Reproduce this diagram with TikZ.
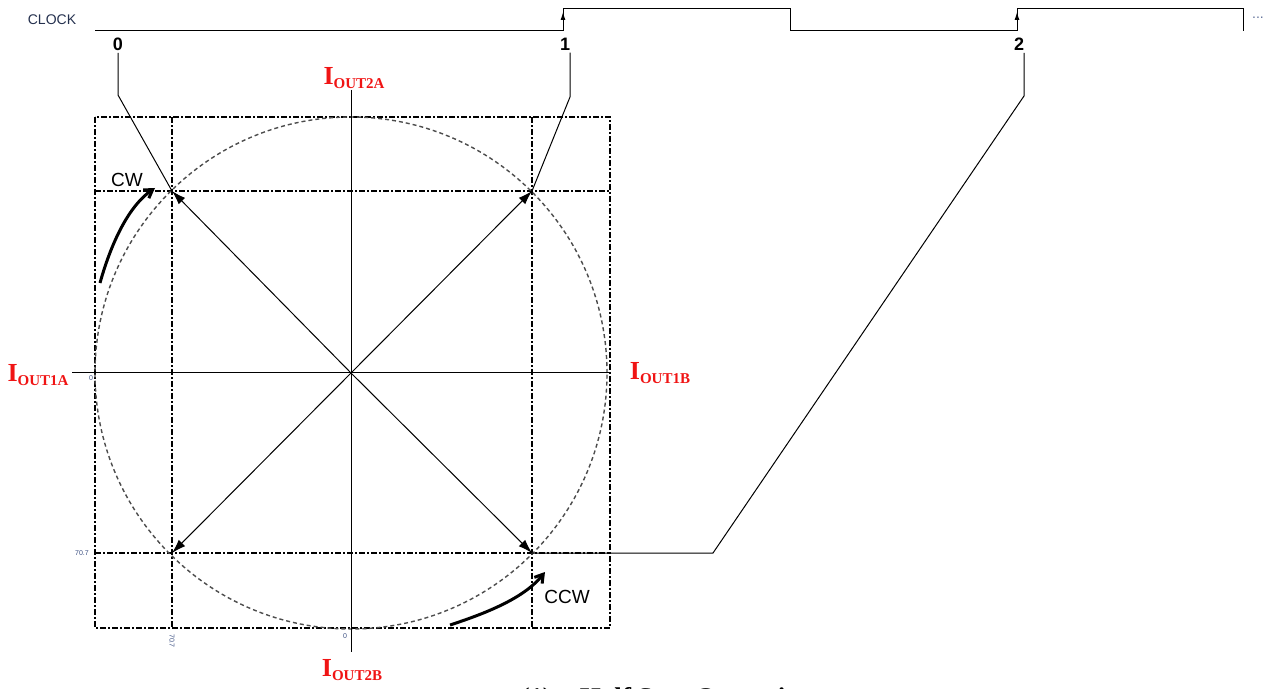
\documentclass[tikz,border=0pt]{standalone}
\usepackage{fontspec}
\setmainfont{Liberation Sans}
\newfontfamily\tnr{Liberation Serif}
\usetikzlibrary{arrows.meta}
\definecolor{ired}{RGB}{240,20,20}
\definecolor{tickblue}{RGB}{60,80,130}

\newcommand{\iout}[1]{{\tnr\bfseries\fontsize{13}{13}\selectfont I\raisebox{-0.4ex}{\fontsize{7.5}{7.5}\selectfont OUT#1}}}

\tikzset{
  gridline/.style={line width=0.55pt, dash pattern=on 3pt off 1.2pt on 0.6pt off 1.2pt},
  circline/.style={line width=0.7pt, black!70, dash pattern=on 2pt off 1.5pt},
  vec/.style={-{Latex[length=7pt,width=4.5pt]}},
  edgetip/.style={-{Latex[length=4pt,width=2.5pt]}},
  turn/.style={line width=1.5pt, -{Straight Barb[length=4pt,width=5pt]}},
  steplbl/.style={font=\bfseries\fontsize{9}{9}\selectfont, inner sep=1pt},
  ticklbl/.style={font=\fontsize{3.5}{3.5}\selectfont, text=tickblue, inner sep=0pt},
  dirlbl/.style={font=\fontsize{9.5}{9.5}\selectfont, inner sep=0pt},
  redlbl/.style={text=ired, inner sep=0pt}
}

\begin{document}
\begin{tikzpicture}[x=0.5pt,y=-0.5pt,line width=0.5pt]
\clip (0,0) rectangle (1279,689);

% points on the circle
\coordinate (O) at (351,373);
\coordinate (NW) at (172,191);
\coordinate (NE) at (532,191);
\coordinate (SW) at (172,553);
\coordinate (SE) at (532,553);

% frame and grid
\draw[gridline] (95,117) rectangle (610,628);
\draw[gridline] (172,117) -- (172,628);
\draw[gridline] (532,117) -- (532,628);
\draw[gridline] (95,191) -- (610,191);
\draw[gridline] (95,553) -- (610,553);
\draw[circline] (O) circle[radius=128pt];

% axes
\draw (72,373) -- (610,373);
\draw (351,90) -- (351,652);

% current vectors
\foreach \p in {NW,NE,SW,SE}
  \draw[vec] (O) -- (\p);

% clock
\node[font=\fontsize{7}{7}\selectfont, text=tickblue!60!black] (clk) at (52,20) {CLOCK};
\draw (95,31) -- (563,31) -- (563,9) -- (790,9) -- (790,31) -- (1017,31)
  -- (1017,9) -- (1243,9) -- (1243,31);
\draw[edgetip] (563,31) -- (563,12);
\draw[edgetip] (1017,31) -- (1017,12);
\node[font=\fontsize{7}{7}\selectfont, text=tickblue!80] (dots) at (1258,18) {...};

\node[steplbl] (s0) at (118,44) {0};
\node[steplbl] (s1) at (565,44) {1};
\node[steplbl] (s2) at (1019,44) {2};

% step connectors
\coordinate (b0) at (118,95);
\coordinate (b1) at (570,97);
\coordinate (b2) at (1024,96);
\coordinate (k2) at (713,553);
\draw (b0 |- s0.south) -- (b0) -- (NW);
\draw (b1 |- s1.south) -- (b1) -- (NE);
\draw (b2 |- s2.south) -- (b2) -- (k2) -- (SE);

% rotation arrows
\draw[turn] (100,283) .. controls (112,240) and (130,205) .. (155,188);
\node[dirlbl] (cw) at (127,180) {CW};
\draw[turn] (450,625) .. controls (490,612) and (525,597) .. (545,572);
\node[dirlbl] (ccw) at (567,597) {CCW};

% tick values
\node[ticklbl] (t0x) at (91,378) {0};
\node[ticklbl] (t7y) at (82,553) {70.7};
\node[ticklbl, rotate=-90] (t7x) at (172,641) {70.7};
\node[ticklbl] (t0y) at (345,636) {0};

% phase labels
\node[redlbl] (o2a) at (354,78) {\iout{2A}};
\node[redlbl] (o1a) at (38,375) {\iout{1A}};
\node[redlbl] (o1b) at (660,373) {\iout{1B}};
\node[redlbl] (o2b) at (352,670) {\iout{2B}};

% caption
\node[anchor=base west, inner sep=0pt, font=\tnr\bfseries\fontsize{13.5}{13.5}\selectfont] (cap)
  at (520,706) {(1)\hspace{14pt}Half Step Operation};
\end{tikzpicture}
\end{document}
